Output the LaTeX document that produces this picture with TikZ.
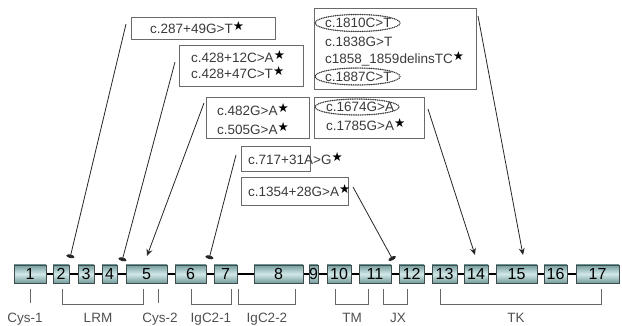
\documentclass[tikz,border=0pt]{standalone}
\usepackage{fontspec}
\setmainfont{Liberation Sans}
\newfontfamily\symfont{DejaVu Sans}
\usetikzlibrary{arrows.meta,shapes.geometric,backgrounds}
\definecolor{txtgray}{HTML}{3A3A3A}
\definecolor{boxgray}{HTML}{6A6A6A}
\definecolor{exdark}{HTML}{759C9C}
\definecolor{exlight}{HTML}{D2E8E8}
\definecolor{exborder}{HTML}{3E4C4C}
\definecolor{lblgray}{HTML}{505050}
\newcommand\mstar{\raisebox{3pt}{\symfont\fontsize{12.5}{12}\selectfont\textcolor{black}{★}}}
\begin{document}
\begin{tikzpicture}[x=1pt,y=-1pt,
  font=\fontsize{13.5}{16}\selectfont,
  mbox/.style={draw=boxgray, line width=1pt, inner sep=0pt},
  mtext/.style={anchor=base west, inner sep=0pt, text=txtgray},
  dotell/.style={ellipse, draw=txtgray, line width=1.5pt, dash pattern=on 0.1pt off 1.7pt, line cap=round, inner sep=0pt},
  exon/.style={draw=exborder, line width=0.8pt, top color=exdark, bottom color=exdark, middle color=exlight, minimum height=18pt, inner sep=0pt, font=\fontsize{16}{16}\selectfont},
  conn/.style={draw=black!85, line width=0.8pt},
  balltip/.style={conn, -{Ellipse[length=3.5pt,width=8pt]}},
  headtip/.style={conn, -{Stealth[length=7pt,width=6pt,inset=2.5pt]}},
  brk/.style={draw=black!60, line width=0.8pt},
  lbl/.style={anchor=base, inner sep=0pt, text=lblgray}
]
\useasboundingbox (0,0) rectangle (622,326);

% exons
\foreach \n/\a/\b in {1/14/46, 2/53/69, 3/78/94, 4/102/117, 5/126/167, 6/175/206, 7/214/237, 8/254/303, 9/310/317, 10/327/351, 11/359/391, 12/399/424, 13/432/457, 14/464/488, 15/496/537, 16/544/567, 17/576/619}
  \node[exon, minimum width={(\b-\a)*1pt}] (e\n) at ({(\a+\b)/2},274) {\n};
\begin{scope}[on background layer]
  \draw[line width=2pt] (e1.east) -- (e17.west);
\end{scope}

% domain brackets
\draw[brk] (30,289) -- (30,303);
\draw[brk] (62,289) |- (143,304) -- (143,289);
\draw[brk] (158,289) -- (158,303);
\draw[brk] (191,289) |- (231,304) -- (231,289);
\draw[brk] (238,289) |- (295,304) -- (295,289);
\draw[brk] (335,289) |- (368,304) -- (368,289);
\draw[brk] (383,289) |- (407,304) -- (407,289);
\draw[brk] (440,289) |- (601,304) -- (601,289);
\node[lbl] (lc1) at (25,323) {Cys-1};
\node[lbl] (llrm) at (98,323) {LRM};
\node[lbl] (lc2) at (160,323) {Cys-2};
\node[lbl] (lig1) at (211,323) {IgC2-1};
\node[lbl] (lig2) at (267,323) {IgC2-2};
\node[lbl] (ltm) at (352,323) {TM};
\node[lbl] (ljx) at (398,323) {JX};
\node[lbl] (ltk) at (516,323) {TK};

% mutation boxes
\node[mbox, minimum width=144pt, minimum height=22pt] (bA) at (203,29) {};
\node[mtext] (tA) at (150,34) {c.287+49G>T\mstar};
\node[mbox, minimum width=124pt, minimum height=41pt] (bB) at (241,66.5) {};
\node[mtext] (tB1) at (191,63) {c.428+12C>A\mstar};
\node[mtext] (tB2) at (191,79) {c.428+47C>T\mstar};
\node[mbox, minimum width=103pt, minimum height=41pt] (bC) at (257.5,118.5) {};
\node[mtext] (tC1) at (217,116) {c.482G>A\mstar};
\node[mtext] (tC2) at (217,135) {c.505G>A\mstar};
\node[mbox, minimum width=69pt, minimum height=25pt] (bD) at (275.5,159.5) {};
\node[mtext] (tD) at (248,165) {c.717+31A>G\mstar};
\node[mbox, minimum width=107pt, minimum height=28pt] (bE) at (294.5,192) {};
\node[mtext] (tE) at (248,197) {c.1354+28G>A\mstar};
\node[mbox, minimum width=162pt, minimum height=81pt] (bF) at (395,49.5) {};
\node[mtext] (tF1) at (325,28) {c.1810C>T};
\node[mtext] (tF2) at (325,46.5) {c.1838G>T};
\node[mtext] (tF3) at (325,64) {c1858\_1859delinsTC\mstar};
\node[mtext] (tF4) at (325,81.5) {c.1887C>T};
\node[mbox, minimum width=110pt, minimum height=41pt] (bG) at (369,118.5) {};
\node[mtext] (tG1) at (326,112) {c.1674G>A};
\node[mtext] (tG2) at (326,131) {c.1785G>A\mstar};
\node[dotell, minimum width=85pt, minimum height=17pt] (oF1) at (357.5,23) {};
\node[dotell, minimum width=85pt, minimum height=17pt] (oF4) at (357.5,76.5) {};
\node[dotell, minimum width=84pt, minimum height=16pt] (oG1) at (357,107) {};

% connectors
\coordinate (s1) at (126,24);   \coordinate (t1) at (70,258);
\coordinate (s2) at (175,62);   \coordinate (t2) at (122,261);
\coordinate (s3) at (204,103);  \coordinate (t3) at (147,256);
\coordinate (s4) at (236,155);  \coordinate (t4) at (209,259);
\coordinate (s5) at (353,187);  \coordinate (t5) at (393,260);
\coordinate (s6) at (428,109);  \coordinate (t6) at (475,255);
\coordinate (s7) at (478,16);   \coordinate (t7) at (523,255);
\draw[balltip] (s1) -- (t1);
\draw[balltip] (s2) -- (t2);
\draw[headtip] (s3) -- (t3);
\draw[balltip] (s4) -- (t4);
\draw[balltip] (s5) -- (t5);
\draw[headtip] (s6) -- (t6);
\draw[headtip] (s7) -- (t7);
\end{tikzpicture}
\end{document}
